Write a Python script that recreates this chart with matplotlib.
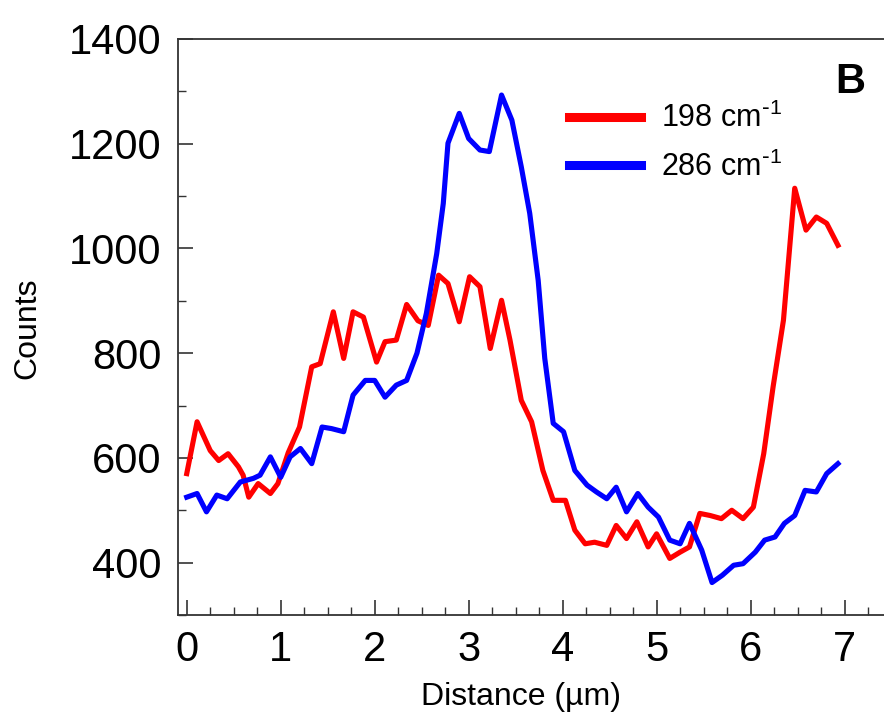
import matplotlib
matplotlib.use("Agg")
import matplotlib.pyplot as plt
from matplotlib.ticker import MultipleLocator
from matplotlib.lines import Line2D

plt.rcParams['font.family'] = ['Liberation Sans', 'DejaVu Sans']
plt.rcParams['mathtext.default'] = 'regular'

# ---- data ----
red_x = [0.00, 0.11, 0.25, 0.34, 0.44, 0.55, 0.60, 0.66, 0.76, 0.89, 0.97, 1.08, 1.20, 1.33,
         1.42, 1.56, 1.67, 1.77, 1.88, 2.02, 2.11, 2.23, 2.34, 2.46, 2.57, 2.68, 2.78, 2.90,
         3.01, 3.12, 3.23, 3.35, 3.44, 3.56, 3.67, 3.79, 3.90, 4.03, 4.13, 4.24, 4.34, 4.47,
         4.57, 4.68, 4.79, 4.91, 5.00, 5.14, 5.25, 5.35, 5.46, 5.57, 5.69, 5.80, 5.92, 6.03,
         6.14, 6.24, 6.35, 6.47, 6.59, 6.70, 6.81, 6.93]
red_y = [570, 669, 614, 595, 608, 583, 567, 525, 551, 532, 551, 610, 659, 774,
         780, 879, 790, 879, 869, 783, 822, 825, 893, 862, 853, 949, 933, 860,
         946, 927, 809, 901, 825, 710, 669, 576, 519, 519, 462, 436, 439, 433,
         471, 446, 478, 430, 455, 408, 420, 430, 494, 490, 484, 500, 484, 506,
         608, 736, 863, 1115, 1035, 1060, 1048, 1006]

blue_x = [0.00, 0.11, 0.21, 0.32, 0.43, 0.57, 0.71, 0.78, 0.89, 1.00, 1.10, 1.21, 1.33, 1.44,
          1.54, 1.67, 1.77, 1.90, 2.00, 2.11, 2.23, 2.34, 2.45, 2.55, 2.66, 2.73, 2.78, 2.90,
          3.00, 3.12, 3.22, 3.35, 3.46, 3.56, 3.65, 3.74, 3.81, 3.90, 4.01, 4.13, 4.26, 4.36,
          4.47, 4.57, 4.68, 4.80, 4.91, 5.02, 5.14, 5.25, 5.35, 5.48, 5.59, 5.70, 5.82, 5.92,
          6.05, 6.15, 6.26, 6.36, 6.47, 6.58, 6.70, 6.81, 6.93]
blue_y = [525, 532, 497, 529, 522, 554, 561, 567, 602, 563, 602, 618, 589, 659,
          656, 650, 720, 748, 748, 716, 739, 748, 800, 876, 990, 1086, 1201, 1258,
          1210, 1188, 1185, 1293, 1245, 1156, 1067, 939, 790, 666, 650, 576, 548, 535,
          522, 544, 497, 532, 506, 487, 443, 436, 475, 424, 362, 376, 395, 398,
          420, 443, 449, 475, 490, 538, 535, 570, 589]

series_labels = [r'198 cm$^{\text{-}1}$', r'286 cm$^{\text{-}1}$']
series_colors = ['#ff0000', '#0000ff']
x_ticks = [0, 1, 2, 3, 4, 5, 6, 7]
y_ticks = [400, 600, 800, 1000, 1200, 1400]

# ---- figure ----
W, H = 884, 719
fig = plt.figure(figsize=(W / 100, H / 100), dpi=100)
ax = fig.add_axes([178 / W, 1 - 615 / H, (W - 178) / W, (615 - 39) / H])

ax.plot(red_x, red_y, color=series_colors[0], lw=3.7, solid_joinstyle='round')
ax.plot(blue_x, blue_y, color=series_colors[1], lw=3.7, solid_joinstyle='round')

ax.set_xlim(-0.093, 7.42)
ax.set_ylim(300, 1400)
ax.set_xticks(x_ticks)
ax.set_yticks(y_ticks)
ax.xaxis.set_minor_locator(MultipleLocator(0.25))
ax.yaxis.set_minor_locator(MultipleLocator(100))

ax.tick_params(which='major', direction='in', length=11, width=1.2, color='#333333',
               labelsize=30, pad=10)
ax.tick_params(which='minor', direction='in', length=6, width=1.0, color='#333333')
ax.tick_params(axis='x', pad=11)
ax.tick_params(axis='y', pad=12)
ax.tick_params(top=False, right=False, which='both')

for side in ['left', 'bottom', 'top']:
    ax.spines[side].set_color('#333333')
    ax.spines[side].set_linewidth(1.3)
ax.spines['right'].set_visible(False)

ax.set_xlabel('Distance (µm)', fontsize=23, va='center')
ax.xaxis.set_label_coords((521 - 178) / (W - 178), (615 - 697) / (615 - 39))
ax.set_ylabel('Counts', fontsize=23, va='center', ha='center')
ax.yaxis.set_label_coords((27 - 178) / (W - 178), (615 - 328) / (615 - 39))

ax.text((850 - 178) / (W - 178), (615 - 82) / (615 - 39), 'B', transform=ax.transAxes,
        fontsize=30, fontweight='bold', ha='center', va='center')

handles = [Line2D([], [], color=c, lw=6.5) for c in series_colors]
leg = ax.legend(handles, series_labels, loc='upper left',
                bbox_to_anchor=(569 / W, 1 - 103 / H), bbox_transform=fig.transFigure,
                frameon=False, fontsize=22, handlelength=2.35, handletextpad=0.65,
                labelspacing=0.57, borderpad=0, borderaxespad=0)

fig.savefig('out.png', dpi=100)
